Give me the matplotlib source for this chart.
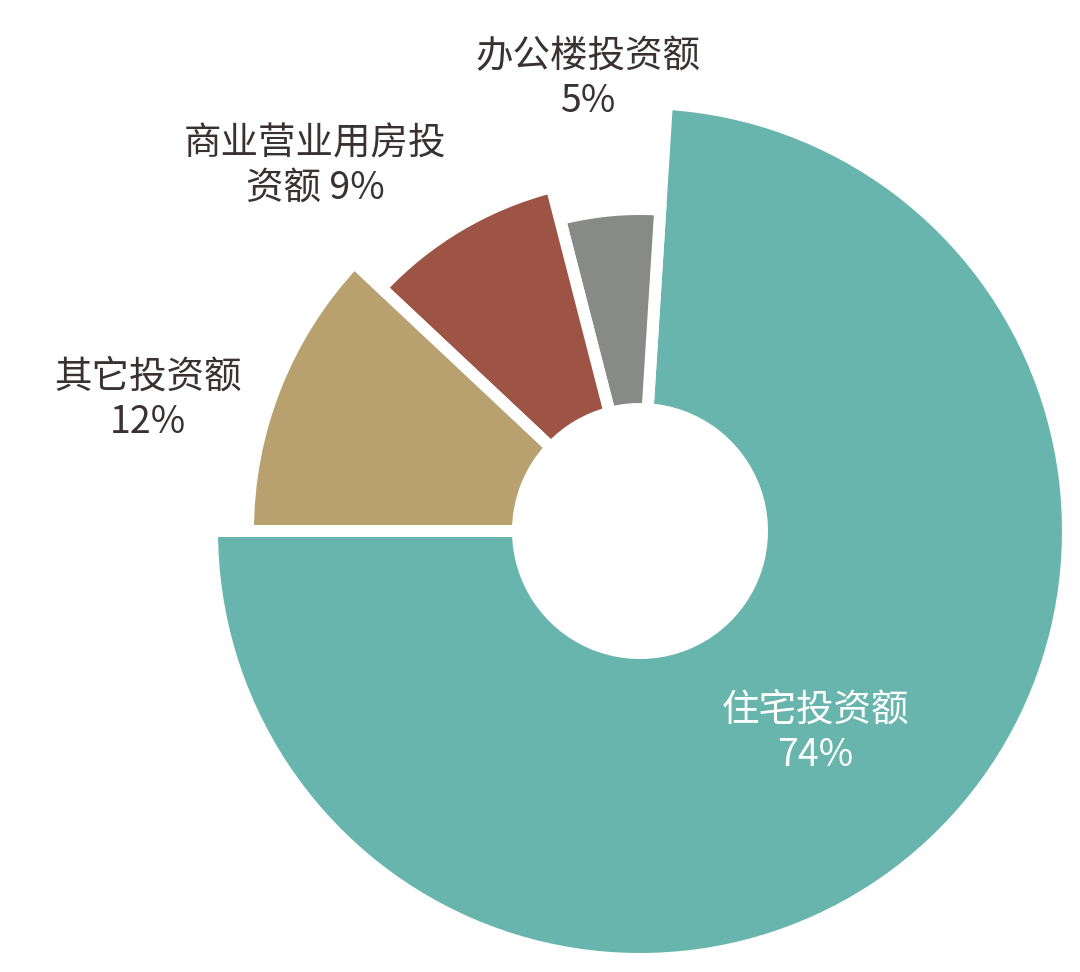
import numpy as np
import matplotlib
matplotlib.use('Agg')
import matplotlib.pyplot as plt
from matplotlib.patches import Wedge

plt.rcParams['font.family'] = ['Noto Sans CJK SC', 'DejaVu Sans']

# data
names = ['住宅投资额', '办公楼投资额', '商业营业用房投资额', '其它投资额']
shares = [74, 5, 9, 12]

# style
colors = ['#68b5ae', '#888a87', '#9e5444', '#b9a06f']
outer_r = [422, 316, 349, 386]     # visible outer radius (px)
inner_r = 128
GAP = 12                           # white gap width (px)
CX, CY = 640, 972 - 531
INK = '#3a3232'

fig = plt.figure(figsize=(10.8, 9.72), dpi=100)
ax = fig.add_axes([0, 0, 1, 1])
ax.set_xlim(0, 1080); ax.set_ylim(0, 972)
ax.set_aspect('equal'); ax.axis('off')

lw_pt = GAP * 72 / 100
total = sum(shares)
theta = -180  # residential starts at the left horizontal, counter-clockwise
for v, c, r in zip(shares, colors, outer_r):
    span = 360 * v / total
    w = Wedge((CX, CY), r + GAP / 2, theta, theta + span, width=r - inner_r + GAP,
              facecolor=c, edgecolor='white', linewidth=lw_pt, joinstyle='miter')
    ax.add_patch(w)
    theta += span

kw = dict(ha='center', va='center', fontsize=27, fontweight='light', linespacing=1.2)
ax.text(588, 972 - 79, f'办公楼投资额\n{shares[1]}%', color=INK, **kw)
ax.text(315, 972 - 166, f'商业营业用房投\n资额 {shares[2]}%', color=INK, **kw)
ax.text(148, 972 - 400, f'其它投资额\n{shares[3]}%', color=INK, **kw)
ax.text(815, 972 - 733, f'住宅投资额\n{shares[0]}%', color='white', **kw)

fig.savefig('out.png', dpi=100, facecolor='white')
